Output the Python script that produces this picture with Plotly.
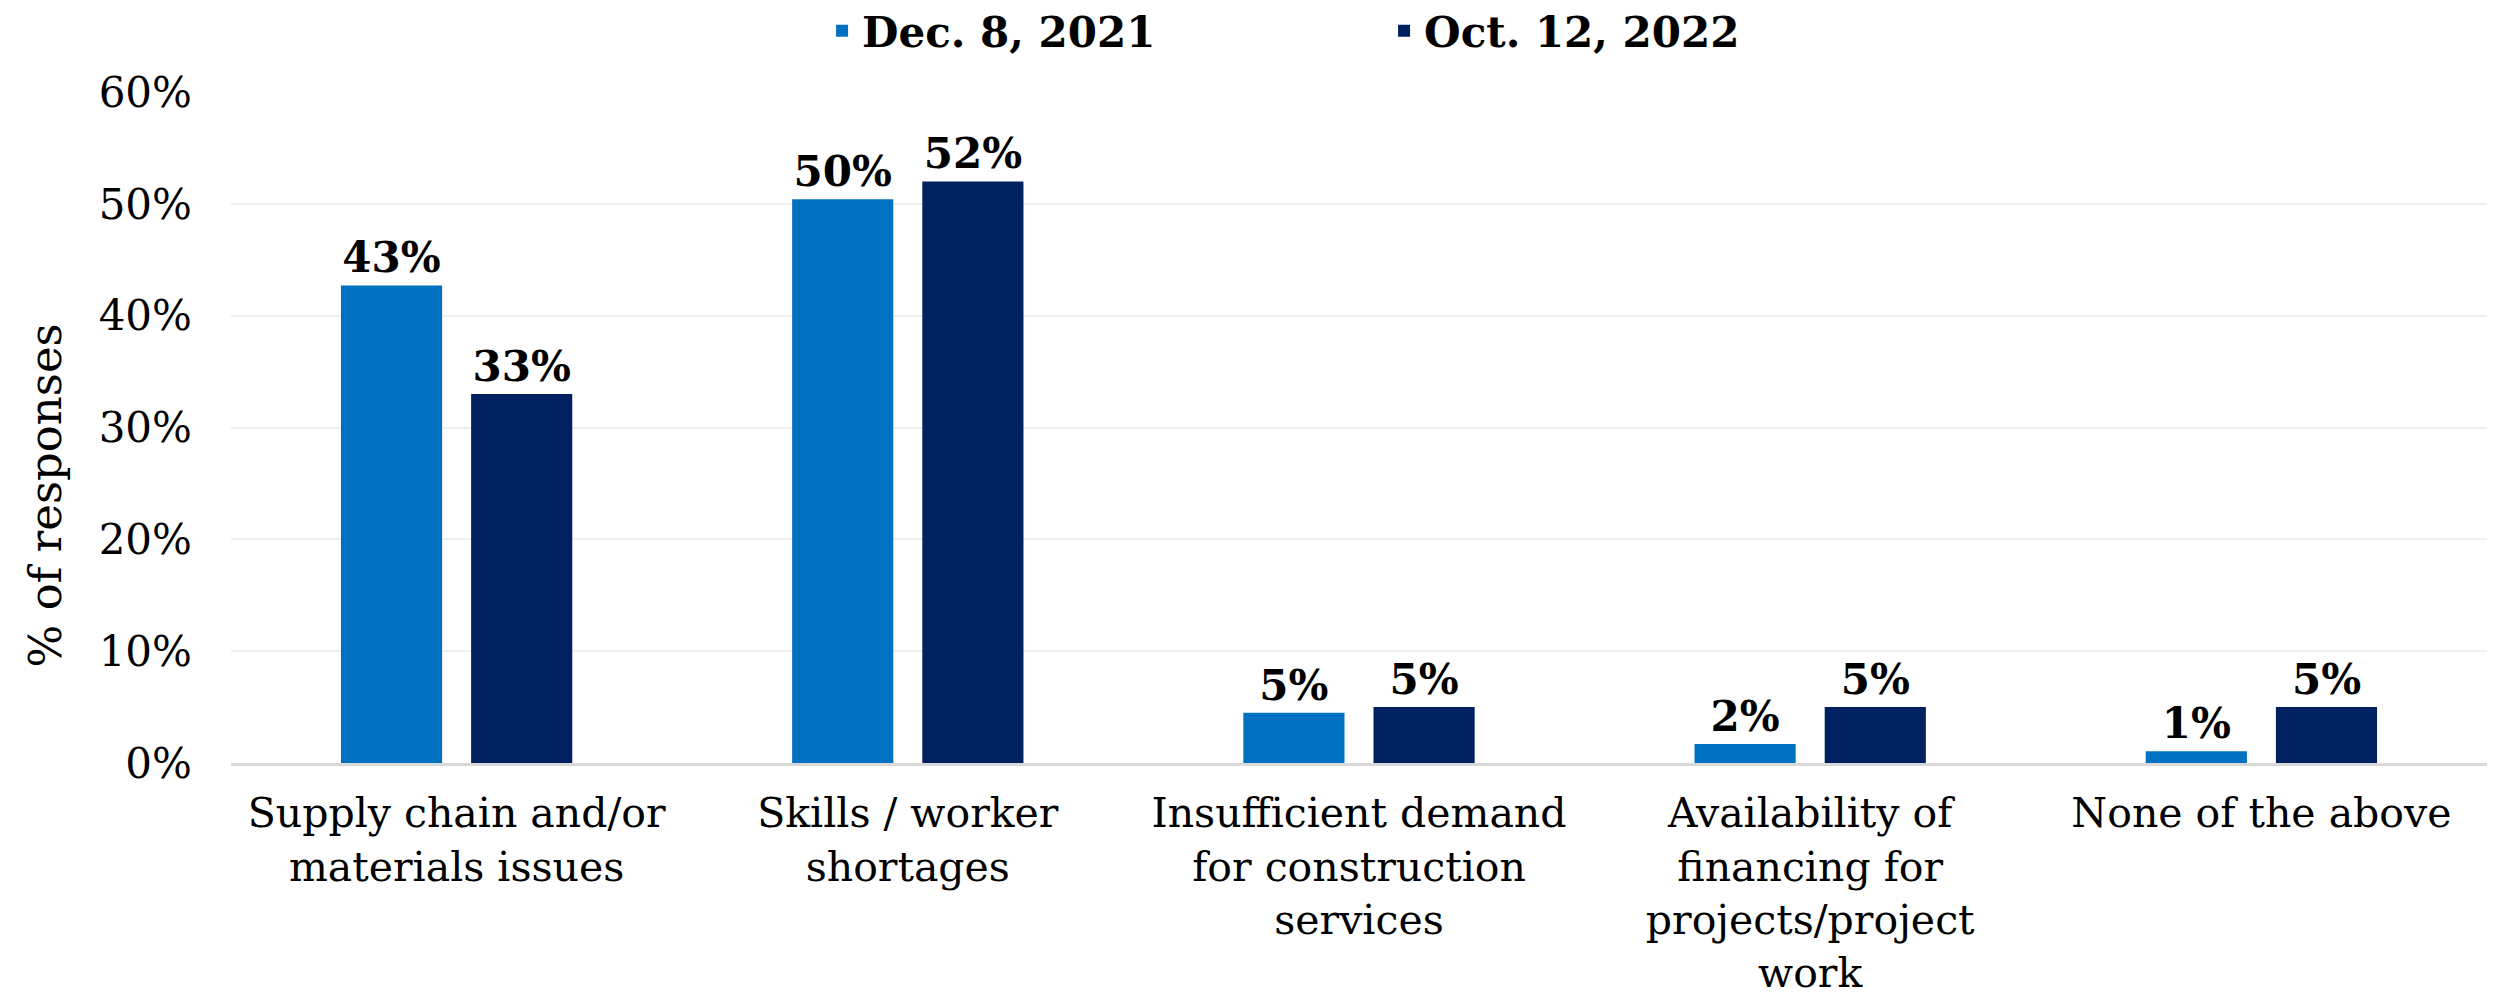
import plotly.graph_objects as go

categories = [
    "Supply chain and/or<br>materials issues",
    "Skills / worker<br>shortages",
    "Insufficient demand<br>for construction<br>services",
    "Availability of<br>financing for<br>projects/project<br>work",
    "None of the above",
]
series_names = ["Dec. 8, 2021", "Oct. 12, 2022"]
dec_2021 = [42.7, 50.4, 4.5, 1.7, 1.05]
oct_2022 = [33.0, 52.0, 5.0, 5.0, 5.0]
colors = ["#0070C0", "#002060"]
y_ticks = [0, 10, 20, 30, 40, 50, 60]
y_tick_labels = ["0%", "10%", "20%", "30%", "40%", "50%", "60%"]
y_title = "% of responses"

FONT = "DejaVu Serif"

fig = go.Figure()
for name, vals, col in zip(series_names, [dec_2021, oct_2022], colors):
    fig.add_trace(go.Bar(
        x=categories, y=vals, name=name,
        marker=dict(color=col, line=dict(width=0)),
        texttemplate="<b>%{y:.0f}%</b>",
        textposition="outside",
        textfont=dict(family=FONT, size=42, color="#000000"),
        cliponaxis=False,
    ))

fig.add_annotation(
    text=y_title, textangle=-90,
    xref="paper", yref="paper", x=-0.0824, y=0.399,
    xanchor="center", yanchor="middle", showarrow=False,
    font=dict(family=FONT, size=45, color="#000000"),
)

fig.update_layout(
    width=2494, height=1003,
    margin=dict(l=231, r=7, t=92, b=240, autoexpand=False),
    paper_bgcolor="white", plot_bgcolor="white",
    font=dict(family=FONT, size=42, color="#000000"),
    barmode="group", bargap=0.423, bargroupgap=0.223,
    showlegend=True,
    legend=dict(
        orientation="h", x=0.262, xanchor="left", y=1.091, yanchor="middle",
        font=dict(family=FONT, size=42, color="#000000", weight="bold"),
        entrywidth=517, entrywidthmode="pixels",
        bgcolor="rgba(0,0,0,0)", borderwidth=0,
    ),
    xaxis=dict(
        showline=True, linecolor="#d9d9d9", linewidth=3,
        showgrid=False, ticks="", tickfont=dict(size=41),
        ticklabelstandoff=12, automargin=False,
    ),
    yaxis=dict(
        range=[0, 60], tickmode="array", tickvals=y_ticks, ticktext=y_tick_labels,
        showgrid=True, gridcolor="#efefef", gridwidth=2,
        zeroline=False, showline=False, ticks="",
        ticklabelstandoff=38, automargin=False,
        tickfont=dict(size=42),
    ),
)

fig.write_html("out.html")
